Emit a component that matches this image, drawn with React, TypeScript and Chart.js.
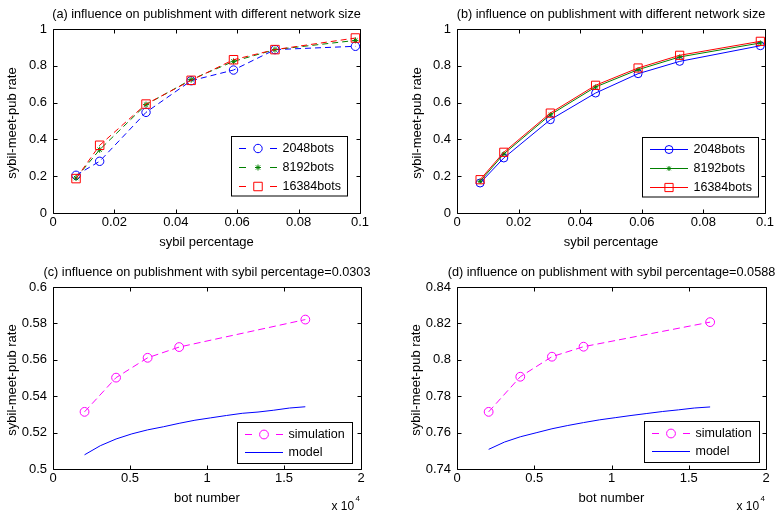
import React, { useEffect, useRef } from "react";
import { Chart, registerables } from "chart.js";

Chart.register(...registerables);

// ---------- data ----------
const sybilPct = [0.0075, 0.0152, 0.0303, 0.045, 0.0588, 0.0723, 0.0985];
// (a) simulation
const simA2048 = [0.205, 0.281, 0.547, 0.719, 0.777, 0.888, 0.906];
const simA8192 = [0.19, 0.344, 0.589, 0.725, 0.824, 0.888, 0.938];
const simA16384 = [0.187, 0.368, 0.592, 0.721, 0.833, 0.888, 0.951];
// (b) model
const modB2048 = [0.163, 0.299, 0.507, 0.652, 0.757, 0.824, 0.909];
const modB8192 = [0.172, 0.321, 0.534, 0.685, 0.779, 0.848, 0.924];
const modB16384 = [0.181, 0.33, 0.543, 0.694, 0.788, 0.857, 0.933];
// (c), (d)
const botSim = [2048, 4096, 6144, 8192, 16384];
const simC = [0.5314, 0.5502, 0.5611, 0.567, 0.5821];
const simD = [0.7714, 0.7907, 0.8017, 0.8072, 0.8207];
const botModel = [2048, 3072, 4096, 5120, 6144, 7168, 8192, 9216, 10240, 11264, 12288, 13312, 14336, 15360, 16384];
const modelC = [0.5078, 0.5128, 0.5165, 0.5193, 0.5215, 0.5232, 0.5251, 0.5268, 0.5281, 0.5294, 0.5306, 0.5313, 0.5323, 0.5335, 0.5342];
const modelD = [0.7508, 0.7548, 0.7577, 0.7599, 0.7621, 0.7639, 0.7655, 0.767, 0.7682, 0.7694, 0.7705, 0.7716, 0.7725, 0.7735, 0.7741];
// ticks
const ticksPct = [0, 0.02, 0.04, 0.06, 0.08, 0.1];
const ticksRate = [0, 0.2, 0.4, 0.6, 0.8, 1];
const ticksBots = [0, 5000, 10000, 15000, 20000];
const ticksC = [0.5, 0.52, 0.54, 0.56, 0.58, 0.6];
const ticksD = [0.74, 0.76, 0.78, 0.8, 0.82, 0.84];

const FONT = '"Liberation Sans", Arial, Helvetica, sans-serif';
const BLUE = "#0000ff";
const GREEN = "#008000";
const RED = "#ff0000";
const MAGENTA = "#ff00ff";

type Marker = "circle" | "star" | "rect" | false;
type SeriesDef = { label: string; xs: number[]; ys: number[]; color: string; dash: number[]; marker: Marker; radius: number };
type PanelDef = {
  box: number[];
  area: number[];
  title: string;
  xLabel: string;
  yLabel: string;
  xMin: number; xMax: number; yMin: number; yMax: number;
  xTicks: number[]; yTicks: number[];
  xDiv: number;
  exponent: boolean;
  series: SeriesDef[];
  legend: number[];
  legendRows: number[];
  yLabelDx: number;
};

function fmt(v: number) {
  return String(parseFloat(v.toFixed(4)));
}

const panels: PanelDef[] = [
  {
    box: [0, 0, 388, 256], area: [53, 29, 360, 213],
    title: "(a) influence on publishment with different network size",
    xLabel: "sybil percentage", yLabel: "sybil-meet-pub rate",
    xMin: 0, xMax: 0.1, yMin: 0, yMax: 1, xTicks: ticksPct, yTicks: ticksRate, xDiv: 1, exponent: false,
    series: [
      { label: "2048bots", xs: sybilPct, ys: simA2048, color: BLUE, dash: [6, 4], marker: "circle", radius: 4.2 },
      { label: "8192bots", xs: sybilPct, ys: simA8192, color: GREEN, dash: [6, 4], marker: "star", radius: 3 },
      { label: "16384bots", xs: sybilPct, ys: simA16384, color: RED, dash: [6, 4], marker: "rect", radius: 6 },
    ],
    legend: [231.5, 136.5, 116, 59.5], legendRows: [11, 30, 49], yLabelDx: -41,
  },
  {
    box: [388, 0, 388, 256], area: [457, 29, 766, 213],
    title: "(b) influence on publishment with different network size",
    xLabel: "sybil percentage", yLabel: "sybil-meet-pub rate",
    xMin: 0, xMax: 0.1, yMin: 0, yMax: 1, xTicks: ticksPct, yTicks: ticksRate, xDiv: 1, exponent: false,
    series: [
      { label: "2048bots", xs: sybilPct, ys: modB2048, color: BLUE, dash: [], marker: "circle", radius: 4 },
      { label: "8192bots", xs: sybilPct, ys: modB8192, color: GREEN, dash: [], marker: "star", radius: 2.5 },
      { label: "16384bots", xs: sybilPct, ys: modB16384, color: RED, dash: [], marker: "rect", radius: 5.8 },
    ],
    legend: [642.5, 137.5, 116, 59.5], legendRows: [11, 30, 49], yLabelDx: -40,
  },
  {
    box: [0, 256, 388, 257], area: [53, 287, 361, 469],
    title: "(c) influence on publishment with sybil percentage=0.0303",
    xLabel: "bot number", yLabel: "sybil-meet-pub rate",
    xMin: 0, xMax: 20000, yMin: 0.5, yMax: 0.6, xTicks: ticksBots, yTicks: ticksC, xDiv: 10000, exponent: true,
    series: [
      { label: "simulation", xs: botSim, ys: simC, color: MAGENTA, dash: [7, 4], marker: "circle", radius: 4.4 },
      { label: "model", xs: botModel, ys: modelC, color: BLUE, dash: [], marker: false, radius: 0 },
    ],
    legend: [237.5, 422.5, 115, 41], legendRows: [11.5, 29.5], yLabelDx: -41,
  },
  {
    box: [388, 256, 388, 257], area: [457, 287, 766, 469],
    title: "(d) influence on publishment with sybil percentage=0.0588",
    xLabel: "bot number", yLabel: "sybil-meet-pub rate",
    xMin: 0, xMax: 20000, yMin: 0.74, yMax: 0.84, xTicks: ticksBots, yTicks: ticksD, xDiv: 10000, exponent: true,
    series: [
      { label: "simulation", xs: botSim, ys: simD, color: MAGENTA, dash: [7, 4], marker: "circle", radius: 4.4 },
      { label: "model", xs: botModel, ys: modelD, color: BLUE, dash: [], marker: false, radius: 0 },
    ],
    legend: [644.5, 421.5, 115, 41], legendRows: [11.5, 29.5], yLabelDx: -41,
  },
];

function drawMarker(ctx: CanvasRenderingContext2D, m: Marker, x: number, y: number, r: number, color: string) {
  if (!m) return;
  ctx.save();
  ctx.setLineDash([]);
  ctx.strokeStyle = color;
  ctx.lineWidth = 1;
  ctx.beginPath();
  if (m === "circle") {
    ctx.arc(x, y, r, 0, Math.PI * 2);
  } else if (m === "rect") {
    const s = Math.SQRT1_2 * r;
    ctx.rect(x - s, y - s, 2 * s, 2 * s);
  } else if (m === "star") {
    ctx.moveTo(x - r, y); ctx.lineTo(x + r, y);
    ctx.moveTo(x, y - r); ctx.lineTo(x, y + r);
    const d = r * Math.SQRT1_2;
    ctx.moveTo(x - d, y - d); ctx.lineTo(x + d, y + d);
    ctx.moveTo(x - d, y + d); ctx.lineTo(x + d, y - d);
  }
  ctx.stroke();
  ctx.restore();
}

function Panel({ def }: { def: PanelDef }) {
  const ref = useRef<HTMLCanvasElement>(null);
  const [bx, by, bw, bh] = def.box;
  useEffect(() => {
    const [al, at, ar, ab] = def.area;
    const padTop = at - by;
    const padRight = bx + bw - ar;
    const yW = al - bx;
    const xH = by + bh - ab;

    const decor = {
      id: "matlabDecor",
      afterDraw(chart: any) {
        const ctx: CanvasRenderingContext2D = chart.ctx;
        const { left, top, right, bottom } = chart.chartArea;
        const xs = chart.scales.x;
        const ys = chart.scales.y;
        ctx.save();
        ctx.strokeStyle = "#000";
        ctx.lineWidth = 1;
        ctx.setLineDash([]);
        const L = Math.round(left) + 0.5, T = Math.round(top) + 0.5;
        const R = Math.round(right) + 0.5, B = Math.round(bottom) + 0.5;
        ctx.beginPath();
        ctx.rect(L, T, R - L, B - T);
        ctx.stroke();
        const tl = 4;
        ctx.beginPath();
        def.xTicks.forEach((v) => {
          const px = Math.round(xs.getPixelForValue(v)) + 0.5;
          ctx.moveTo(px, B); ctx.lineTo(px, B - tl);
          ctx.moveTo(px, T); ctx.lineTo(px, T + tl);
        });
        def.yTicks.forEach((v) => {
          const py = Math.round(ys.getPixelForValue(v)) + 0.5;
          ctx.moveTo(L, py); ctx.lineTo(L + tl, py);
          ctx.moveTo(R, py); ctx.lineTo(R - tl, py);
        });
        ctx.stroke();

        ctx.fillStyle = "#000";
        // title
        ctx.font = `12.7px ${FONT}`;
        ctx.textAlign = "center";
        ctx.textBaseline = "alphabetic";
        ctx.fillText(def.title, (left + right) / 2, top - 11.5);
        // x label
        ctx.font = `13px ${FONT}`;
        ctx.fillText(def.xLabel, (left + right) / 2, bottom + 33);
        // y label
        ctx.save();
        ctx.translate(left + def.yLabelDx, (top + bottom) / 2 + 2);
        ctx.rotate(-Math.PI / 2);
        ctx.textBaseline = "middle";
        ctx.fillText(def.yLabel, 0, 0);
        ctx.restore();
        // exponent
        if (def.exponent) {
          ctx.textAlign = "left";
          ctx.font = `12px ${FONT}`;
          ctx.fillText("x 10", right - 29.5, bottom + 41);
          ctx.font = `8px ${FONT}`;
          ctx.fillText("4", right - 5.5, bottom + 31.5);
        }
        // legend
        const [lx0, ly0, lw, lh] = def.legend;
        const lx = lx0 - bx, ly = ly0 - by;
        ctx.fillStyle = "#fff";
        ctx.fillRect(lx, ly, lw, lh);
        ctx.strokeStyle = "#000";
        ctx.strokeRect(lx, ly, lw, lh);
        ctx.font = `12.5px ${FONT}`;
        ctx.textAlign = "left";
        ctx.textBaseline = "middle";
        def.series.forEach((s, i) => {
          const ry = Math.round(ly + def.legendRows[i]) + 0.5;
          const x1 = lx + 7.5, x2 = lx + 45.5, xm = lx + 26.5;
          ctx.strokeStyle = s.color;
          ctx.lineWidth = 1;
          ctx.setLineDash([]);
          ctx.beginPath();
          if (s.dash.length) {
            ctx.moveTo(x1, ry); ctx.lineTo(x1 + 7, ry);
            ctx.moveTo(x2 - 7, ry); ctx.lineTo(x2, ry);
          } else {
            ctx.moveTo(x1, ry); ctx.lineTo(x2, ry);
          }
          ctx.stroke();
          drawMarker(ctx, s.marker, xm, ry, s.radius, s.color);
          ctx.fillStyle = "#000";
          ctx.fillText(s.label, lx + 51, ry);
        });
        ctx.restore();
      },
    };

    const chart = new Chart(ref.current as HTMLCanvasElement, {
      type: "line",
      data: {
        datasets: def.series.map((s, i) => ({
          label: s.label,
          data: s.xs.map((x, j) => ({ x, y: s.ys[j] })),
          borderColor: s.color,
          borderWidth: 1,
          borderDash: s.dash,
          pointStyle: s.marker || "circle",
          pointRadius: s.marker ? s.radius : 0,
          pointHoverRadius: s.marker ? s.radius : 0,
          pointBorderColor: s.color,
          pointBackgroundColor: "rgba(0,0,0,0)",
          pointBorderWidth: 1,
          fill: false,
          tension: 0,
          order: def.series.length - i,
        })),
      },
      options: {
        responsive: false,
        animation: false,
        devicePixelRatio: 1,
        events: [],
        layout: { padding: { top: padTop, right: padRight, left: 0, bottom: 0 } },
        plugins: { legend: { display: false }, tooltip: { enabled: false }, title: { display: false } },
        scales: {
          x: {
            type: "linear",
            min: def.xMin,
            max: def.xMax,
            grid: { display: false, drawTicks: false },
            border: { display: false },
            ticks: {
              padding: 2,
              color: "#000",
              font: { family: FONT, size: 13 },
              maxRotation: 0,
              autoSkip: false,
              callback: (v: any) => fmt(Number(v) / def.xDiv),
            },
            afterBuildTicks: (sc: any) => {
              sc.ticks = def.xTicks.map((v) => ({ value: v }));
            },
            afterFit: (sc: any) => {
              sc.height = xH;
            },
          },
          y: {
            type: "linear",
            min: def.yMin,
            max: def.yMax,
            grid: { display: false, drawTicks: false },
            border: { display: false },
            ticks: {
              padding: 6,
              color: "#000",
              font: { family: FONT, size: 13 },
              autoSkip: false,
              callback: (v: any) => fmt(Number(v)),
            },
            afterBuildTicks: (sc: any) => {
              sc.ticks = def.yTicks.map((v) => ({ value: v }));
            },
            afterFit: (sc: any) => {
              sc.width = yW;
            },
          },
        },
      } as any,
      plugins: [decor],
    });
    return () => chart.destroy();
  }, []);
  return (
    <canvas
      ref={ref}
      width={bw}
      height={bh}
      style={{ position: "absolute", left: bx, top: by, width: bw, height: bh }}
    />
  );
}

export default function App() {
  return (
    <div style={{ position: "fixed", left: 0, top: 0, width: 776, height: 513, background: "#fff", overflow: "hidden" }}>
      {panels.map((p, i) => (
        <Panel key={i} def={p} />
      ))}
    </div>
  );
}
